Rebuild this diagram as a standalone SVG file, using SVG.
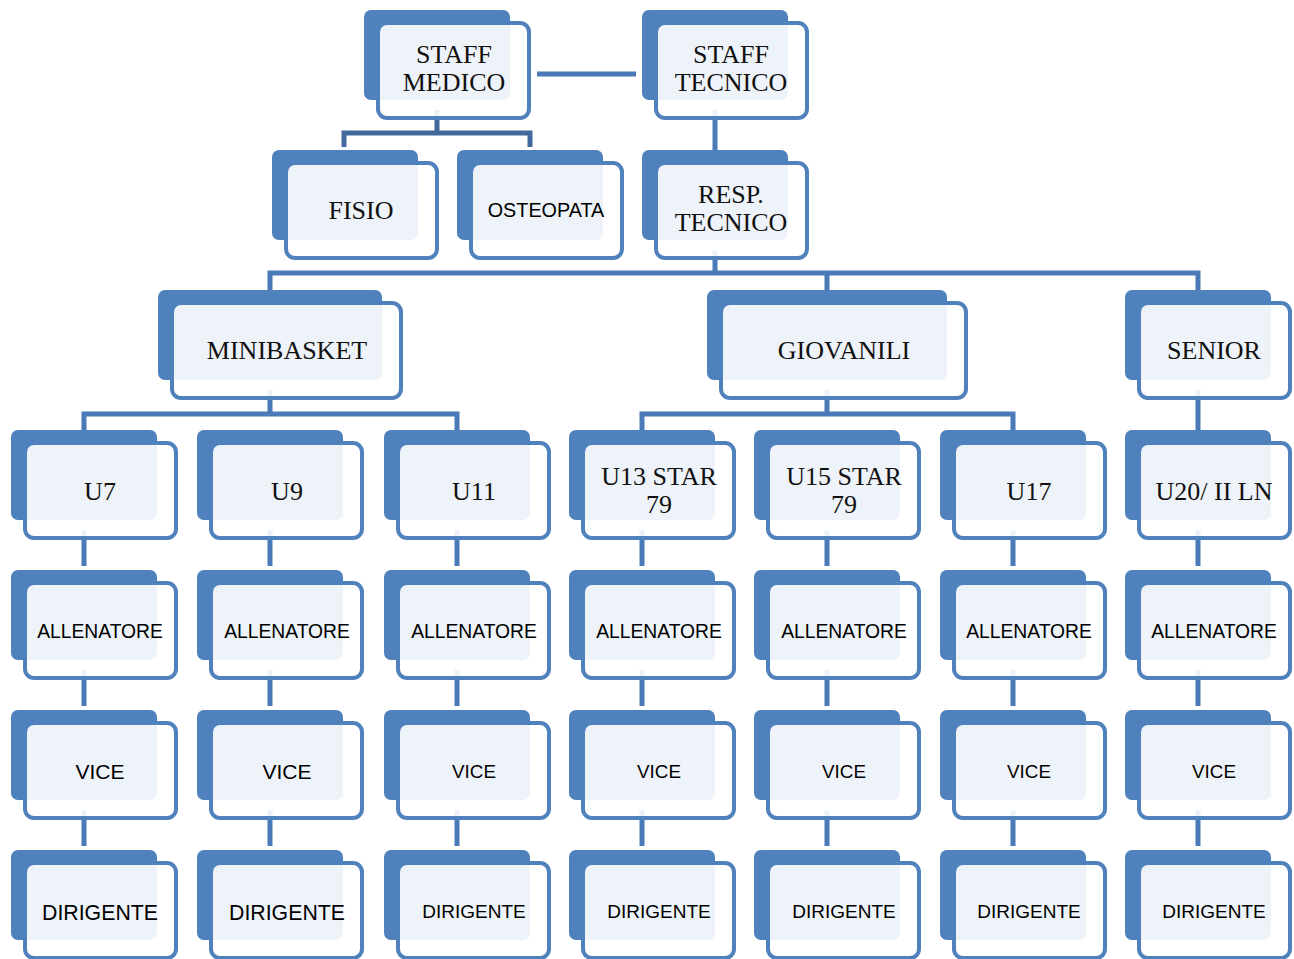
<svg xmlns="http://www.w3.org/2000/svg" width="1294" height="959" viewBox="0 0 1294 959">
<style>
.bk{fill:#4f81bd}
.fr{fill:#ffffff;fill-opacity:0.9;stroke:#4f81bd;stroke-width:4}
.c{stroke:#4a7bb8;stroke-width:5;fill:none}
.cd{stroke:#41699c;stroke-width:5;fill:none}
.s{font-family:"Liberation Serif",serif;font-size:26px;fill:#111;text-anchor:middle}
.n{font-family:"Liberation Sans",Arial,sans-serif;font-size:19.3px;fill:#000;text-anchor:middle}
.vb{font-size:21px}
.vs{font-size:18.8px}
.db{font-size:21.3px}
.ds{font-size:19px}
</style>
<rect width="1294" height="959" fill="#ffffff"/>
<g id="connectors">
<line class="c" x1="537" y1="74" x2="636" y2="74"/>
<path class="cd" d="M437 110 V133 M344 147 V133 H530 V147"/>
<path class="c" d="M715 110 V152"/>
<path class="c" d="M715 250 V273 M270 292 V273 H1198 V292 M827 273 V292"/>
<path class="c" d="M270 390 V414 M84 432 V414 H457 V432"/>
<path class="c" d="M827 390 V414 M642 432 V414 H1013 V432"/>
<path class="c" d="M1198 390 V432"/>
<path class="c" d="M84 530 V566 M84 670 V706 M84 810 V846"/>
<path class="c" d="M270 530 V566 M270 670 V706 M270 810 V846"/>
<path class="c" d="M457 530 V566 M457 670 V706 M457 810 V846"/>
<path class="c" d="M642 530 V566 M642 670 V706 M642 810 V846"/>
<path class="c" d="M827 530 V566 M827 670 V706 M827 810 V846"/>
<path class="c" d="M1013 530 V566 M1013 670 V706 M1013 810 V846"/>
<path class="c" d="M1198 530 V566 M1198 670 V706 M1198 810 V846"/>
</g>
<g id="staff-medico"><rect class="bk" x="364" y="10" width="146" height="90" rx="7"/><rect class="fr" x="378" y="23" width="151" height="95" rx="9"/><text class="s" x="454" y="63">STAFF</text><text class="s" x="454" y="91">MEDICO</text></g>
<g id="staff-tecnico"><rect class="bk" x="642" y="10" width="146" height="90" rx="7"/><rect class="fr" x="656" y="23" width="151" height="95" rx="9"/><text class="s" x="731" y="63">STAFF</text><text class="s" x="731" y="91">TECNICO</text></g>
<g id="fisio"><rect class="bk" x="272" y="150" width="146" height="90" rx="7"/><rect class="fr" x="286" y="163" width="151" height="95" rx="9"/><text class="s" x="361" y="219">FISIO</text></g>
<g id="osteopata"><rect class="bk" x="457" y="150" width="146" height="90" rx="7"/><rect class="fr" x="471" y="163" width="151" height="95" rx="9"/><text class="n" x="546" y="217" style="font-size:19.8px">OSTEOPATA</text></g>
<g id="resp-tecnico"><rect class="bk" x="642" y="150" width="146" height="90" rx="7"/><rect class="fr" x="656" y="163" width="151" height="95" rx="9"/><text class="s" x="731" y="203">RESP.</text><text class="s" x="731" y="231">TECNICO</text></g>
<g id="minibasket"><rect class="bk" x="158" y="290" width="224" height="90" rx="7"/><rect class="fr" x="172" y="303" width="229" height="95" rx="9"/><text class="s" x="287" y="359">MINIBASKET</text></g>
<g id="giovanili"><rect class="bk" x="707" y="290" width="240" height="90" rx="7"/><rect class="fr" x="721" y="303" width="245" height="95" rx="9"/><text class="s" x="844" y="359">GIOVANILI</text></g>
<g id="senior"><rect class="bk" x="1125" y="290" width="146" height="90" rx="7"/><rect class="fr" x="1139" y="303" width="151" height="95" rx="9"/><text class="s" x="1214" y="359">SENIOR</text></g>

<g id="u7"><rect class="bk" x="11" y="430" width="146" height="90" rx="7"/><rect class="fr" x="25" y="443" width="151" height="95" rx="9"/><text class="s" x="100" y="500">U7</text></g>
<g id="u9"><rect class="bk" x="197" y="430" width="146" height="90" rx="7"/><rect class="fr" x="211" y="443" width="151" height="95" rx="9"/><text class="s" x="287" y="500">U9</text></g>
<g id="u11"><rect class="bk" x="384" y="430" width="146" height="90" rx="7"/><rect class="fr" x="398" y="443" width="151" height="95" rx="9"/><text class="s" x="474" y="500">U11</text></g>
<g id="u13"><rect class="bk" x="569" y="430" width="146" height="90" rx="7"/><rect class="fr" x="583" y="443" width="151" height="95" rx="9"/><text class="s" x="659" y="485">U13 STAR</text><text class="s" x="659" y="513">79</text></g>
<g id="u15"><rect class="bk" x="754" y="430" width="146" height="90" rx="7"/><rect class="fr" x="768" y="443" width="151" height="95" rx="9"/><text class="s" x="844" y="485">U15 STAR</text><text class="s" x="844" y="513">79</text></g>
<g id="u17"><rect class="bk" x="940" y="430" width="146" height="90" rx="7"/><rect class="fr" x="954" y="443" width="151" height="95" rx="9"/><text class="s" x="1029" y="500">U17</text></g>
<g id="u20"><rect class="bk" x="1125" y="430" width="146" height="90" rx="7"/><rect class="fr" x="1139" y="443" width="151" height="95" rx="9"/><text class="s" x="1214" y="500">U20/ II LN</text></g>

<g id="all-u7"><rect class="bk" x="11" y="570" width="146" height="90" rx="7"/><rect class="fr" x="25" y="583" width="151" height="95" rx="9"/><text class="n" x="100" y="638">ALLENATORE</text></g>
<g id="all-u9"><rect class="bk" x="197" y="570" width="146" height="90" rx="7"/><rect class="fr" x="211" y="583" width="151" height="95" rx="9"/><text class="n" x="287" y="638">ALLENATORE</text></g>
<g id="all-u11"><rect class="bk" x="384" y="570" width="146" height="90" rx="7"/><rect class="fr" x="398" y="583" width="151" height="95" rx="9"/><text class="n" x="474" y="638">ALLENATORE</text></g>
<g id="all-u13"><rect class="bk" x="569" y="570" width="146" height="90" rx="7"/><rect class="fr" x="583" y="583" width="151" height="95" rx="9"/><text class="n" x="659" y="638">ALLENATORE</text></g>
<g id="all-u15"><rect class="bk" x="754" y="570" width="146" height="90" rx="7"/><rect class="fr" x="768" y="583" width="151" height="95" rx="9"/><text class="n" x="844" y="638">ALLENATORE</text></g>
<g id="all-u17"><rect class="bk" x="940" y="570" width="146" height="90" rx="7"/><rect class="fr" x="954" y="583" width="151" height="95" rx="9"/><text class="n" x="1029" y="638">ALLENATORE</text></g>
<g id="all-u20"><rect class="bk" x="1125" y="570" width="146" height="90" rx="7"/><rect class="fr" x="1139" y="583" width="151" height="95" rx="9"/><text class="n" x="1214" y="638">ALLENATORE</text></g>

<g id="vice-u7"><rect class="bk" x="11" y="710" width="146" height="90" rx="7"/><rect class="fr" x="25" y="723" width="151" height="95" rx="9"/><text class="n vb" x="100" y="779">VICE</text></g>
<g id="vice-u9"><rect class="bk" x="197" y="710" width="146" height="90" rx="7"/><rect class="fr" x="211" y="723" width="151" height="95" rx="9"/><text class="n vb" x="287" y="779">VICE</text></g>
<g id="vice-u11"><rect class="bk" x="384" y="710" width="146" height="90" rx="7"/><rect class="fr" x="398" y="723" width="151" height="95" rx="9"/><text class="n vs" x="474" y="778">VICE</text></g>
<g id="vice-u13"><rect class="bk" x="569" y="710" width="146" height="90" rx="7"/><rect class="fr" x="583" y="723" width="151" height="95" rx="9"/><text class="n vs" x="659" y="778">VICE</text></g>
<g id="vice-u15"><rect class="bk" x="754" y="710" width="146" height="90" rx="7"/><rect class="fr" x="768" y="723" width="151" height="95" rx="9"/><text class="n vs" x="844" y="778">VICE</text></g>
<g id="vice-u17"><rect class="bk" x="940" y="710" width="146" height="90" rx="7"/><rect class="fr" x="954" y="723" width="151" height="95" rx="9"/><text class="n vs" x="1029" y="778">VICE</text></g>
<g id="vice-u20"><rect class="bk" x="1125" y="710" width="146" height="90" rx="7"/><rect class="fr" x="1139" y="723" width="151" height="95" rx="9"/><text class="n vs" x="1214" y="778">VICE</text></g>

<g id="dir-u7"><rect class="bk" x="11" y="850" width="146" height="90" rx="7"/><rect class="fr" x="25" y="863" width="151" height="95" rx="9"/><text class="n db" x="100" y="920">DIRIGENTE</text></g>
<g id="dir-u9"><rect class="bk" x="197" y="850" width="146" height="90" rx="7"/><rect class="fr" x="211" y="863" width="151" height="95" rx="9"/><text class="n db" x="287" y="920">DIRIGENTE</text></g>
<g id="dir-u11"><rect class="bk" x="384" y="850" width="146" height="90" rx="7"/><rect class="fr" x="398" y="863" width="151" height="95" rx="9"/><text class="n ds" x="474" y="918">DIRIGENTE</text></g>
<g id="dir-u13"><rect class="bk" x="569" y="850" width="146" height="90" rx="7"/><rect class="fr" x="583" y="863" width="151" height="95" rx="9"/><text class="n ds" x="659" y="918">DIRIGENTE</text></g>
<g id="dir-u15"><rect class="bk" x="754" y="850" width="146" height="90" rx="7"/><rect class="fr" x="768" y="863" width="151" height="95" rx="9"/><text class="n ds" x="844" y="918">DIRIGENTE</text></g>
<g id="dir-u17"><rect class="bk" x="940" y="850" width="146" height="90" rx="7"/><rect class="fr" x="954" y="863" width="151" height="95" rx="9"/><text class="n ds" x="1029" y="918">DIRIGENTE</text></g>
<g id="dir-u20"><rect class="bk" x="1125" y="850" width="146" height="90" rx="7"/><rect class="fr" x="1139" y="863" width="151" height="95" rx="9"/><text class="n ds" x="1214" y="918">DIRIGENTE</text></g>
</svg>
